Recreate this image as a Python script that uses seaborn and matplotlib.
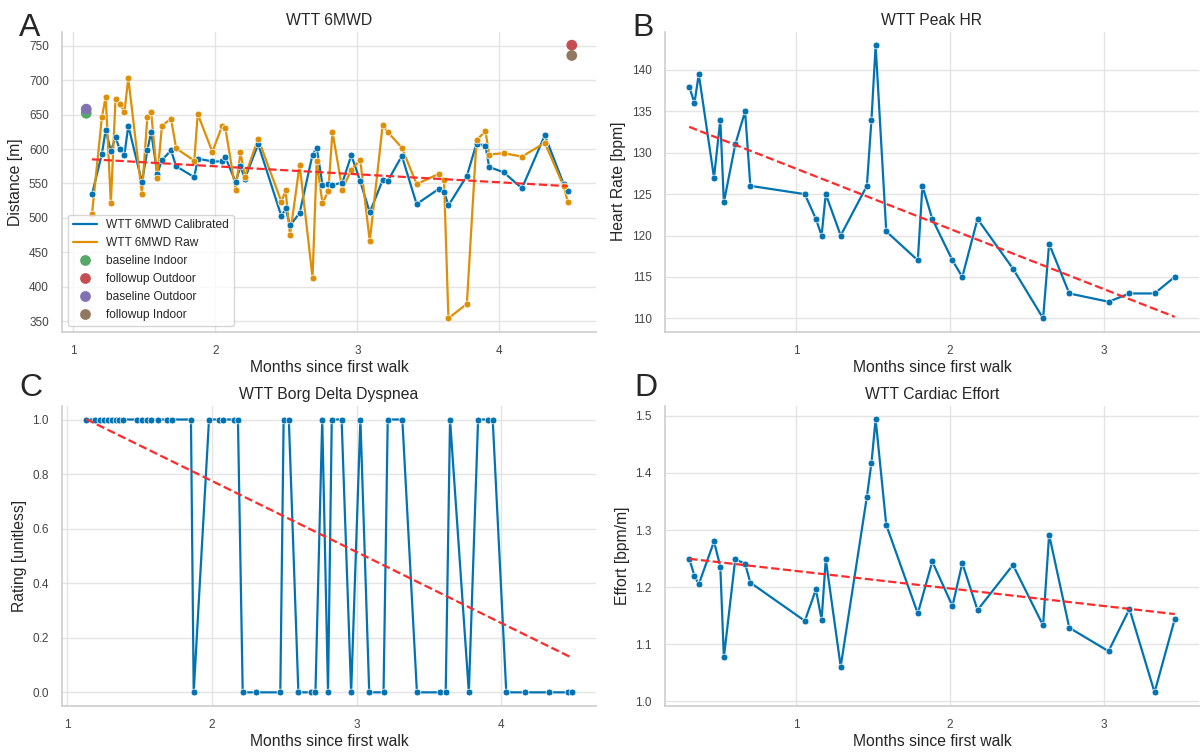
import numpy as np
import pandas as pd
import matplotlib
matplotlib.use("Agg")
import matplotlib.pyplot as plt
from matplotlib.ticker import MultipleLocator
import seaborn as sns

# %% data

# A) WTT 6MWD
months_6mwd = [1.13, 1.20, 1.227, 1.263, 1.296, 1.325, 1.359, 1.386, 1.482, 1.52,
               1.547, 1.59, 1.623, 1.687, 1.723, 1.851, 1.875, 1.978, 2.048, 2.07,
               2.142, 2.176, 2.207, 2.301, 2.465, 2.494, 2.525, 2.593, 2.684, 2.713,
               2.754, 2.795, 2.824, 2.894, 2.957, 3.02, 3.087, 3.178, 3.212, 3.313,
               3.417, 3.573, 3.61, 3.641, 3.771, 3.839, 3.902, 3.928, 4.031, 4.159,
               4.32, 4.453, 4.482]
dist_calibrated = [534, 593, 628, 597, 617, 600, 592, 634, 552, 598,
                   625, 564, 584, 598, 575, 559, 586, 582, 582, 588,
                   552, 575, 557, 607, 502, 514, 489, 507, 592, 602,
                   548, 549, 548, 551, 591, 553, 508, 555, 553, 590,
                   520, 542, 538, 518, 561, 608, 605, 574, 566, 543,
                   620, 549, 539]
dist_raw = [505, 646, 676, 521, 673, 666, 654, 703, 535, 646,
            654, 558, 634, 644, 601, 583, 651, 596, 634, 630,
            540, 595, 560, 615, 523, 540, 475, 577, 413, 582,
            521, 539, 625, 541, 570, 584, 466, 635, 625, 602,
            549, 564, 555, 354, 375, 613, 626, 592, 594, 589,
            609, 546, 523]
ref_labels = ["baseline Indoor", "followup Outdoor", "baseline Outdoor", "followup Indoor"]
ref_months = [1.09, 4.51, 1.09, 4.51]
ref_dist = [652, 751, 658, 736]
ref_colors = ["#55a868", "#c44e52", "#8172b3", "#937860"]

# B) WTT Peak HR
months_hr = [0.306, 0.340, 0.368, 0.467, 0.508, 0.531, 0.605, 0.669, 0.703, 1.057,
             1.129, 1.166, 1.193, 1.290, 1.460, 1.490, 1.517, 1.586, 1.791, 1.821,
             1.885, 2.016, 2.080, 2.179, 2.409, 2.605, 2.644, 2.775, 3.030, 3.166,
             3.329, 3.460]
peak_hr = [138, 136, 139.5, 127, 134, 124, 131, 135, 126, 125,
           122, 120, 125, 120, 126, 134, 143, 120.5, 117, 126,
           122, 117, 115, 122, 116, 110, 119, 113, 112, 113,
           113, 115]

# C) WTT Borg Delta Dyspnea
months_borg = [1.130, 1.193, 1.224, 1.252, 1.281, 1.307, 1.335, 1.358, 1.387, 1.481,
               1.517, 1.547, 1.578, 1.625, 1.689, 1.724, 1.854, 1.873, 1.979, 2.047,
               2.073, 2.153, 2.179, 2.212, 2.302, 2.472, 2.495, 2.531, 2.597, 2.686,
               2.715, 2.762, 2.802, 2.828, 2.896, 2.962, 3.026, 3.087, 3.186, 3.215,
               3.316, 3.417, 3.575, 3.616, 3.646, 3.776, 3.840, 3.906, 3.941, 4.035,
               4.165, 4.330, 4.465, 4.488]
borg_delta = [1, 1, 1, 1, 1, 1, 1, 1, 1, 1,
              1, 1, 1, 1, 1, 1, 1, 0, 1, 1,
              1, 1, 1, 0, 0, 0, 1, 1, 0, 0,
              0, 1, 0, 1, 1, 0, 1, 0, 0, 1,
              1, 0, 0, 0, 1, 0, 1, 1, 1, 0,
              0, 0, 0, 0]

# D) WTT Cardiac Effort
months_effort = [0.306, 0.340, 0.368, 0.467, 0.508, 0.531, 0.605, 0.669, 0.703, 1.057,
                 1.129, 1.166, 1.193, 1.290, 1.460, 1.490, 1.517, 1.586, 1.791, 1.885,
                 2.016, 2.080, 2.179, 2.409, 2.605, 2.644, 2.775, 3.030, 3.166, 3.329,
                 3.460]
cardiac_effort = [1.250, 1.220, 1.205, 1.280, 1.236, 1.077, 1.249, 1.241, 1.208, 1.141,
                  1.196, 1.143, 1.249, 1.061, 1.358, 1.418, 1.494, 1.309, 1.154, 1.245,
                  1.167, 1.242, 1.160, 1.239, 1.133, 1.292, 1.129, 1.088, 1.162, 1.016,
                  1.144]

# %% style
sns.set_theme(style="whitegrid")
plt.rcParams["font.family"] = ["Liberation Sans", "DejaVu Sans"]
plt.rcParams["grid.color"] = "#e4e4e4"
plt.rcParams["axes.edgecolor"] = "#cfcfcf"

blue, orange = sns.color_palette("colorblind")[:2]
TITLE_FS = 11.3
TICK_FS = 8.5


def series(ax, x, y, color, label=None):
    sns.lineplot(x=x, y=y, color=color, lw=1.6, label=label, ax=ax, legend=False)
    sns.scatterplot(x=x, y=y, color=color, s=24, edgecolor="white", linewidth=0.5,
                    ax=ax, legend=False, zorder=3)


def trend(ax, x, y):
    coef = np.polyfit(x, y, 1)
    xs = np.array([min(x), max(x)])
    ax.plot(xs, np.polyval(coef, xs), "--", color="#ff2a2a", lw=1.6, zorder=4)


def finish(ax, title, ylabel):
    ax.set_title(title, fontsize=TITLE_FS, pad=5)
    ax.set_xlabel("Months since first walk", fontsize=TITLE_FS, labelpad=2)
    ax.set_ylabel(ylabel, fontsize=TITLE_FS)
    ax.xaxis.set_major_locator(MultipleLocator(1))
    ax.tick_params(labelsize=TICK_FS, colors="#444444")
    sns.despine(ax=ax)


fig, axes = plt.subplots(2, 2, figsize=(12.01, 7.52), dpi=100)
fig.subplots_adjust(left=62 / 1201, right=1199 / 1201, top=1 - 31.5 / 752,
                    bottom=1 - 706 / 752, wspace=0.129, hspace=0.245)

# %% A
ax = axes[0, 0]
series(ax, months_6mwd, dist_calibrated, blue, "WTT 6MWD Calibrated")
series(ax, months_6mwd, dist_raw, orange, "WTT 6MWD Raw")
trend(ax, months_6mwd, dist_calibrated)
ref = pd.DataFrame({"month": ref_months, "dist": ref_dist, "kind": ref_labels})
sns.scatterplot(data=ref, x="month", y="dist", hue="kind", hue_order=ref_labels,
                palette=dict(zip(ref_labels, ref_colors)), s=60, linewidth=0,
                ax=ax, zorder=5)
ax.legend(loc="lower left", fontsize=8.6, frameon=True)
ax.set_yticks(np.arange(350, 751, 50))
finish(ax, "WTT 6MWD", "Distance [m]")

# %% B
ax = axes[0, 1]
series(ax, months_hr, peak_hr, blue)
trend(ax, months_hr, peak_hr)
finish(ax, "WTT Peak HR", "Heart Rate [bpm]")

# %% C
ax = axes[1, 0]
series(ax, months_borg, borg_delta, blue)
trend(ax, months_borg, borg_delta)
finish(ax, "WTT Borg Delta Dyspnea", "Rating [unitless]")

# %% D
ax = axes[1, 1]
series(ax, months_effort, cardiac_effort, blue)
trend(ax, months_effort, cardiac_effort)
finish(ax, "WTT Cardiac Effort", "Effort [bpm/m]")

# panel letters
for letter, px, py in [("A", 19, 36), ("B", 632, 36), ("C", 19, 396), ("D", 634, 396)]:
    fig.text(px / 1201, 1 - py / 752, letter, fontsize=23, ha="left", va="baseline")

fig.savefig("out.png", dpi=100)
